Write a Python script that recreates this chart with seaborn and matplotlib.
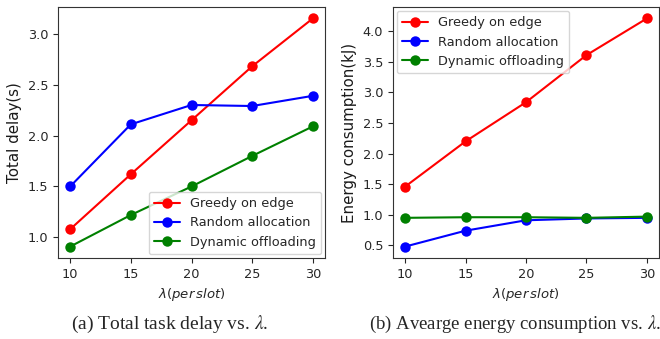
import pandas as pd
import matplotlib.pyplot as plt
import seaborn as sns

sns.set_style('ticks')
plt.rcParams['font.family'] = ['DejaVu Sans']

lam = [10, 15, 20, 25, 30]
names = ['Greedy on edge', 'Random allocation', 'Dynamic offloading']
colors = ['red', 'blue', 'green']

# (a) total delay
delay_greedy = [1.08, 1.62, 2.15, 2.68, 3.15]
delay_random = [1.50, 2.11, 2.30, 2.29, 2.39]
delay_dynamic = [0.91, 1.22, 1.50, 1.80, 2.09]

# (b) energy consumption
energy_greedy = [1.46, 2.20, 2.84, 3.61, 4.21]
energy_random = [0.48, 0.74, 0.91, 0.94, 0.95]
energy_dynamic = [0.95, 0.96, 0.96, 0.95, 0.97]

fig = plt.figure(figsize=(6.6, 3.39), dpi=100)
ax1 = fig.add_axes([58 / 660, 81 / 339, 267 / 660, 251 / 339])
ax2 = fig.add_axes([393 / 660, 81 / 339, 266 / 660, 251 / 339])


def draw(ax, series, ylabel, legend_loc):
    for name, vals, c in zip(names, series, colors):
        df = pd.DataFrame({'lam': lam, 'val': vals})
        sns.lineplot(data=df, x='lam', y='val', ax=ax, color=c, label=name,
                     marker='o', markersize=7.5, markeredgewidth=0, linewidth=1.5)
    ax.set_xticks(lam)
    ax.set_xlabel(r'$\lambda(per\,slot)$', fontsize=9.5)
    ax.set_ylabel(ylabel, fontsize=10.8, color='0.1')
    ax.tick_params(labelsize=9.3, colors='0.15')
    for s in ax.spines.values():
        s.set_color('0.2')
    ax.legend(loc=legend_loc, fontsize=9.3, frameon=True, borderaxespad=0.3)


draw(ax1, [delay_greedy, delay_random, delay_dynamic], 'Total delay(s)', 'lower right')
draw(ax2, [energy_greedy, energy_random, energy_dynamic], 'Energy consumption(kJ)', 'upper left')

fig.text(170 / 660, 1 - 324 / 339, r'(a) Total task delay vs. $\lambda$.', ha='center', va='center',
         fontsize=14, family='Liberation Serif', math_fontfamily='stix')
fig.text(515 / 660, 1 - 324 / 339, r'(b) Avearge energy consumption vs. $\lambda$.', ha='center', va='center',
         fontsize=13.5, family='Liberation Serif', math_fontfamily='stix')

fig.savefig('out.png', dpi=100)
